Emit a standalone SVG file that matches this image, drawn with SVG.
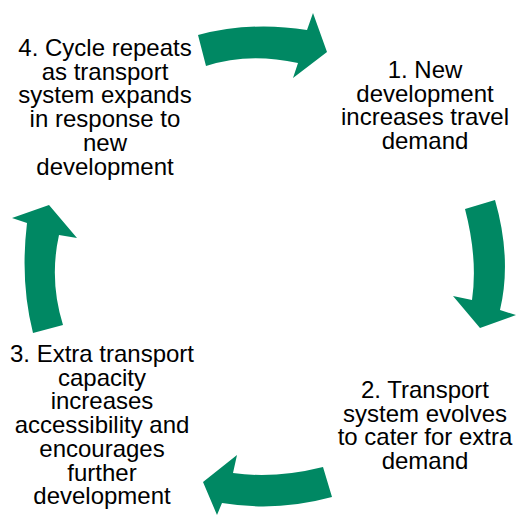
<svg xmlns="http://www.w3.org/2000/svg" width="516" height="515" viewBox="0 0 516 515">
<style>
.arrow{fill:#008863;stroke:none}
.lbl{font-family:"Liberation Sans",Arial,sans-serif;font-size:24px;fill:#000;text-anchor:middle}
</style>
<rect width="516" height="515" fill="#fff"/>
<g id="connectors">
<path class="arrow" d="M198,35 Q251,21 307,30 L313,13 L327,52 L293,78 L298,63 Q248,52 206,66 Z"/>
<path class="arrow" d="M465,209 L495,200 Q512,259 500,310 L516,315 L480,328 L453,296 L472,300 Q478,259 465,209 Z"/>
<path class="arrow" d="M323,467 Q275,479 233,473 L237,455 L203,482 L217,515 L222,503 Q277,512 332,497 Z"/>
<path class="arrow" d="M33,333 L63,325 Q49,280 59,235 L77,238 L49,205 L12,218 L27,223 Q20,282 33,333 Z"/>
</g>
<g id="node1">
<text class="lbl" x="425" y="78">1. New</text>
<text class="lbl" x="425" y="101.5">development</text>
<text class="lbl" x="425" y="125">increases travel</text>
<text class="lbl" x="425" y="148.5">demand</text>
</g>
<g id="node2">
<text class="lbl" x="425" y="398">2. Transport</text>
<text class="lbl" x="425" y="421.5">system evolves</text>
<text class="lbl" x="425" y="445">to cater for extra</text>
<text class="lbl" x="425" y="468.5">demand</text>
</g>
<g id="node3">
<text class="lbl" x="102" y="362">3. Extra transport</text>
<text class="lbl" x="102" y="385.7">capacity</text>
<text class="lbl" x="102" y="409.4">increases</text>
<text class="lbl" x="102" y="433.1">accessibility and</text>
<text class="lbl" x="102" y="456.8">encourages</text>
<text class="lbl" x="102" y="480.5">further</text>
<text class="lbl" x="102" y="504.2">development</text>
</g>
<g id="node4">
<text class="lbl" x="105" y="56">4. Cycle repeats</text>
<text class="lbl" x="105" y="79.7">as transport</text>
<text class="lbl" x="105" y="103.4">system expands</text>
<text class="lbl" x="105" y="127.1">in response to</text>
<text class="lbl" x="105" y="150.8">new</text>
<text class="lbl" x="105" y="174.5">development</text>
</g>
</svg>
